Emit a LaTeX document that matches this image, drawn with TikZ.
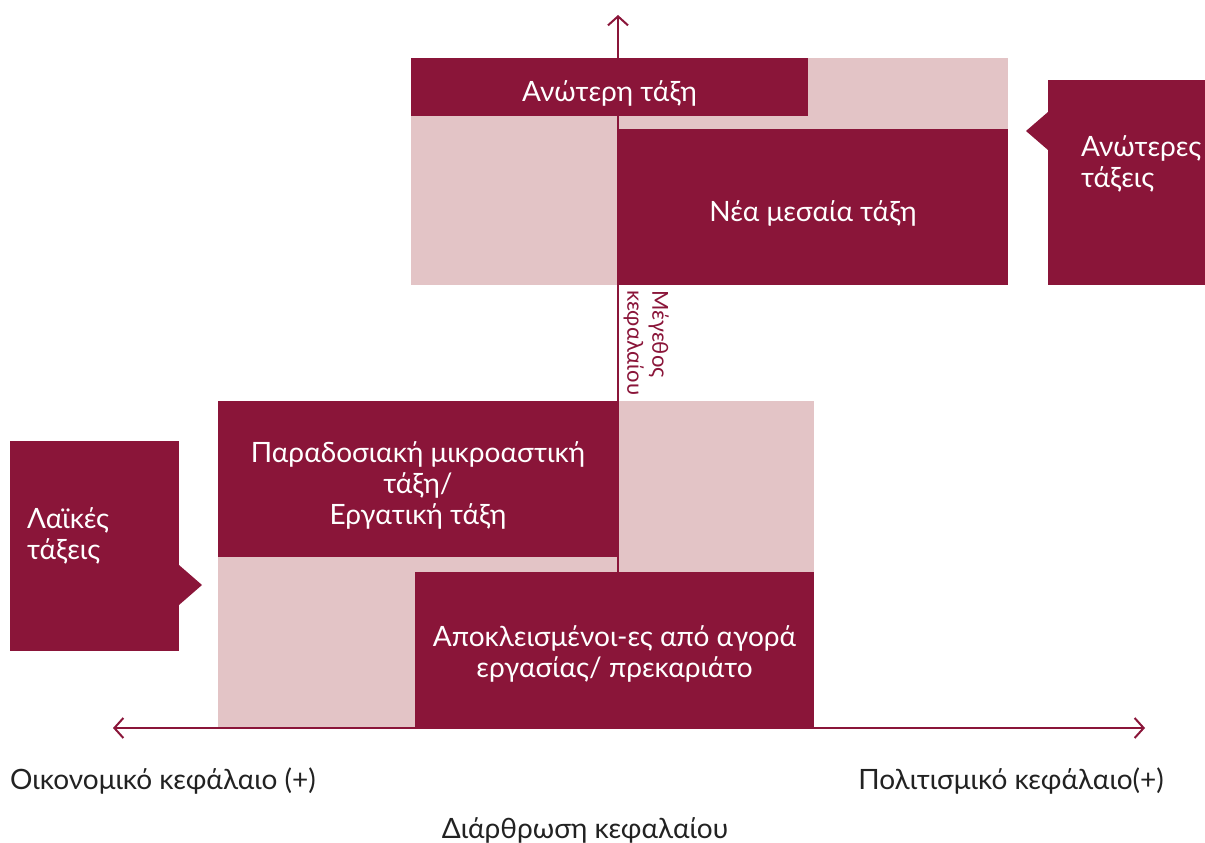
\documentclass[tikz,border=0pt]{standalone}
\usepackage{fontspec}
\setmainfont{Lato}
\usetikzlibrary{arrows.meta}
\definecolor{wine}{HTML}{8A1539}
\definecolor{blush}{HTML}{E3C4C6}
\definecolor{ink}{HTML}{222222}
\tikzset{
  boxfont/.style={font=\fontsize{28}{31}\selectfont},
  darkbox/.style={fill=wine, inner sep=0pt, outer sep=0pt},
  boxtext/.style={text=white, boxfont, align=center, inner sep=0pt, yshift=-6pt},
  lightbox/.style={fill=blush, inner sep=0pt, outer sep=0pt},
  axis/.style={draw=wine, line width=2pt, {Straight Barb[length=9pt,width=20pt,line width=2pt]}-{Straight Barb[length=9pt,width=20pt,line width=2pt]}},
  upaxis/.style={draw=wine, line width=2pt, -{Straight Barb[length=9pt,width=20pt,line width=2pt]}},
  lbl/.style={text=ink, inner sep=0pt, font=\fontsize{28}{31}\selectfont}
}
\begin{document}
\begin{tikzpicture}[x=1pt,y=-1pt]
\useasboundingbox (0,0) rectangle (1205,843);
% light backgrounds
\node[lightbox, minimum width=597pt, minimum height=227pt, anchor=north west] (topbg) at (411,58) {};
\node[lightbox, minimum width=596pt, minimum height=327pt, anchor=north west] (lowbg) at (218,401) {};
% vertical axis (behind the dark boxes)
\coordinate (vb) at (618,572);
\coordinate (vt) at (618,15);
\draw[upaxis] (vb) -- (vt);
% dark boxes
\node[darkbox, minimum width=397pt, minimum height=58pt, anchor=north west,
  label={[boxtext]center:{Ανώτερη τάξη}}] (upper) at (411,58) {};
\node[darkbox, minimum width=390pt, minimum height=156pt, anchor=north west,
  label={[boxtext]center:{Νέα μεσαία τάξη}}] (newmid) at (618,129) {};
\node[darkbox, minimum width=400pt, minimum height=156pt, anchor=north west,
  label={[boxtext]center:{Παραδοσιακή μικροαστική\\τάξη/\\Εργατική τάξη}}] (petit) at (218,401) {};
\node[darkbox, minimum width=399pt, minimum height=156pt, anchor=north west,
  label={[boxtext, yshift=2pt]center:{Αποκλεισμένοι-ες από αγορά\\εργασίας/ πρεκαριάτο}}] (excl) at (415,572) {};
% side boxes
\node[darkbox, minimum width=157pt, minimum height=205pt, anchor=north west] (upside) at (1048,80) {};
\fill[wine] (upside.north west) ++(0,32) -- ++(-22,19) -- ++(22,19) -- cycle;
\node[text=white, anchor=north west, align=left, inner sep=0pt, boxfont] (uptxt) at (1081,135) {Ανώτερες\\τάξεις};
\node[darkbox, minimum width=169pt, minimum height=210pt, anchor=north west] (lowside) at (10,441) {};
\fill[wine] (lowside.north east) ++(0,124) -- ++(23,20) -- ++(-23,20) -- cycle;
\node[text=white, anchor=north west, align=left, inner sep=0pt, boxfont] (lowtxt) at (27,507) {Λαϊκές\\τάξεις};
% horizontal axis
\coordinate (hl) at (113,728);
\coordinate (hr) at (1145,728);
\draw[axis] (hl) -- (hr);
% vertical label
\node[text=wine, rotate=-90, align=left, inner sep=0pt, anchor=north west, font=\fontsize{22}{25}\selectfont] (vlab) at (669,290) {Μέγεθος\\κεφαλαίου};
% axis labels
\node[lbl, anchor=west] (econ) at (10,781) {Οικονομικό κεφάλαιο (+)};
\node[lbl, anchor=east] (cult) at (1164,781) {Πολιτισμικό κεφάλαιο(+)};
\node[lbl, anchor=center] (struct) at (585,830) {Διάρθρωση κεφαλαίου};
\end{tikzpicture}
\end{document}
